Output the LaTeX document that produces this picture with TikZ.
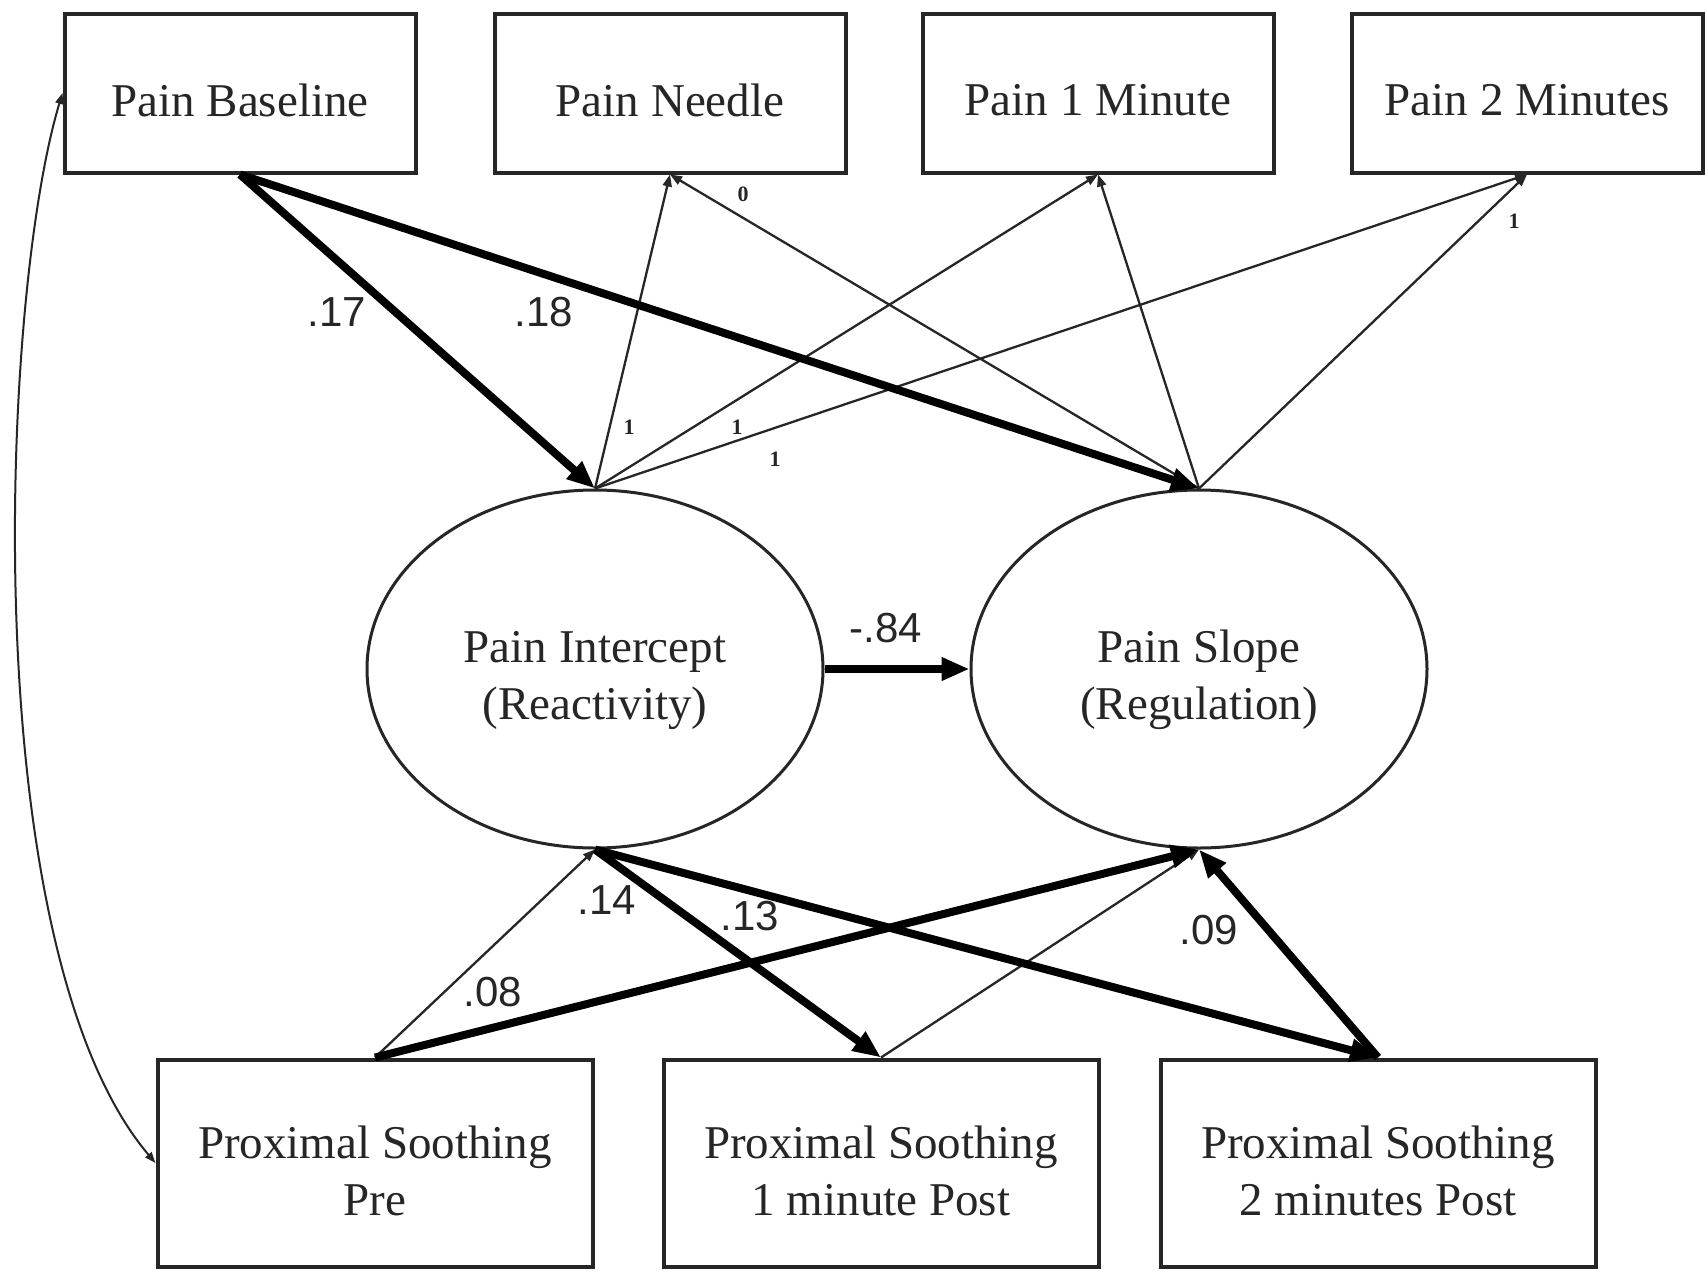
\documentclass[tikz,border=0pt]{standalone}
\usepackage{fontspec}
\setmainfont{Liberation Serif}
\newfontfamily\labfont{Liberation Sans}
\usetikzlibrary{arrows.meta,shapes.geometric}
\definecolor{ink}{HTML}{262626}
\tikzset{
  box/.style={draw=ink,line width=4pt,rectangle,minimum width=351pt,minimum height=159pt,inner sep=0pt},
  lowbox/.style={box,minimum width=435pt,minimum height=207pt},
  latent/.style={draw=ink,line width=3pt,ellipse,minimum width=456pt,minimum height=358pt,inner sep=0pt},
  boxtext/.style={inner sep=0pt,align=center,text=ink,font=\fontsize{47}{57}\selectfont},
  thinarr/.style={draw=ink,line width=2.3pt,-{Triangle[length=12pt,width=9pt]}},
  thickarr/.style={draw=black,line width=8pt,-{Triangle[length=28pt,width=22pt]}},
  lab/.style={inner sep=0pt,text=ink,font=\labfont\fontsize{42}{42}\selectfont},
  onelab/.style={inner sep=0pt,text=ink,font=\bfseries\fontsize{22}{22}\selectfont}
}
\begin{document}
\begin{tikzpicture}[x=1pt,y=-1pt]
\useasboundingbox (0,0) rectangle (1705,1270);
\fill[white] (0,0) rectangle (1705,1270);
% top boxes
\node[box] (PB) at (240,93) {};
\node[box] (PN) at (670,93) {};
\node[box] (P1) at (1098,93) {};
\node[box] (P2) at (1527,93) {};
\node[boxtext] (PBt) at ([yshift=-7pt]PB.center) {Pain Baseline};
\node[boxtext] (PNt) at ([yshift=-7pt]PN.center) {Pain Needle};
\node[boxtext] (P1t) at ([yshift=-7pt]P1.center) {Pain 1 Minute};
\node[boxtext] (P2t) at ([yshift=-7pt]P2.center) {Pain 2 Minutes};
% latent
\node[latent] (I) at (595,669) {};
\node[latent] (S) at (1199,669) {};
\node[boxtext] (It) at ([yshift=-11pt]I.center) {Pain Intercept\\(Reactivity)};
\node[boxtext] (St) at ([yshift=-11pt]S.center) {Pain Slope\\(Regulation)};
% bottom boxes
\node[lowbox] (S0) at (375,1163) {};
\node[lowbox] (S1) at (881,1163) {};
\node[lowbox] (S2) at (1378,1163) {};
\node[boxtext] (S0t) at ([yshift=-8pt]S0.center) {Proximal Soothing\\Pre};
\node[boxtext] (S1t) at ([yshift=-8pt]S1.center) {Proximal Soothing\\1 minute Post};
\node[boxtext] (S2t) at ([yshift=-8pt]S2.center) {Proximal Soothing\\2 minutes Post};
% loadings
\draw[thinarr] (I.north) -- (PN.south);
\draw[thinarr] (I.north) -- (P1.south);
\draw[thinarr] (I.north) -- (P2.south);
\draw[thinarr] (S.north) -- (PN.south);
\draw[thinarr] (S.north) -- (P1.south);
\draw[thinarr] (S.north) -- (P2.south);
% baseline paths
\draw[thickarr] (PB.south) -- (I.north);
\draw[thickarr] (PB.south) -- (S.north);
% intercept -> slope
\draw[thickarr] (I.east) -- (S.west);
% bottom paths
\draw[thinarr] (S0.north) -- (I.south);
\draw[thinarr] (S1.north) -- (S.south);
\draw[thickarr] (S0.north) -- (S.south);
\draw[thickarr] (I.south) -- (S1.north);
\draw[thickarr] (I.south) -- (S2.north);
\draw[thickarr] (S2.north) -- (S.south);
% covariance
\draw[draw=ink,line width=2pt,{Triangle[length=11pt,width=8pt]}-{Triangle[length=11pt,width=8pt]}]
  (PB.west) .. controls (0,300) and (-25,950) .. (S0.west);
% labels
\node[lab] (l17) at (337,312) {.17};
\node[lab] (l18) at (544,312) {.18};
\node[lab] (l84) at (886,628) {-.84};
\node[lab] (l14) at (607,900) {.14};
\node[lab] (l13) at (750,916) {.13};
\node[lab] (l08) at (493,992) {.08};
\node[lab] (l09) at (1209,930) {.09};
\node[onelab] (z0) at (743,194) {0};
\node[onelab] (o1) at (629,427) {1};
\node[onelab] (o2) at (737,427) {1};
\node[onelab] (o3) at (775,459) {1};
\node[onelab] (o4) at (1514,221) {1};
\end{tikzpicture}
\end{document}
